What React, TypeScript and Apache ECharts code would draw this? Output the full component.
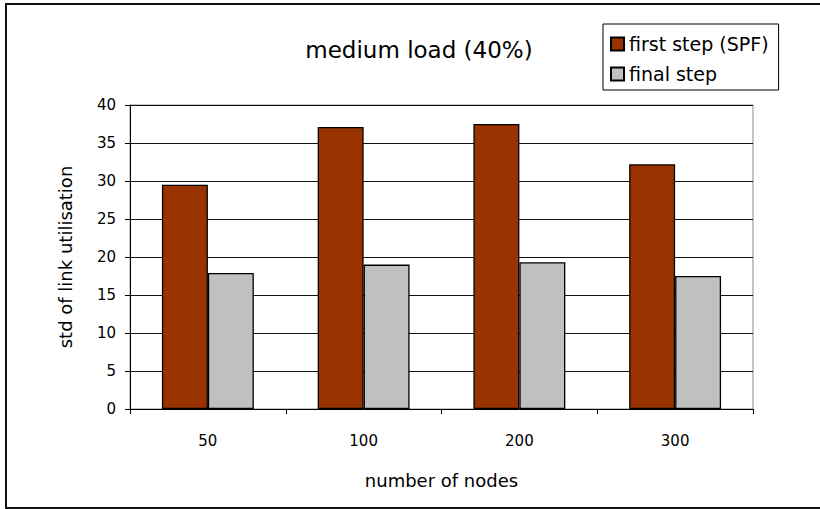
import React, { useEffect, useRef } from "react";
import * as echarts from "echarts";

const categories = ["50", "100", "200", "300"];
const firstStep = [29.5, 37.1, 37.5, 32.2];
const finalStep = [17.9, 19.0, 19.3, 17.5];
const seriesNames = ["first step (SPF)", "final step"];
const titleText = "medium load (40%)";
const xName = "number of nodes";
const yName = "std of link utilisation";

const FONT = "'DejaVu Sans', Verdana, sans-serif";

export default function App() {
  const ref = useRef<HTMLDivElement>(null);
  useEffect(() => {
    if (!ref.current) return;
    const chart = echarts.init(ref.current, undefined, { renderer: "svg" });
    chart.setOption({
      animation: false,
      backgroundColor: "#ffffff",
      textStyle: { fontFamily: FONT, color: "#000" },
      title: {
        text: titleText,
        left: 414,
        top: 33,
        textAlign: "center",
        textStyle: { fontFamily: FONT, fontSize: 23, fontWeight: "normal", color: "#000" },
      },
      legend: {
        orient: "vertical",
        left: 603,
        top: 24,
        padding: [9, 10, 5, 7],
        itemGap: 8,
        itemWidth: 13,
        itemHeight: 13,
        icon: "rect",
        borderColor: "#000",
        borderWidth: 1,
        textStyle: { fontFamily: FONT, fontSize: 19, color: "#000", lineHeight: 22 },
        data: seriesNames,
      },
      grid: {
        left: 130,
        right: 67,
        top: 105,
        bottom: 100,
        show: true,
        borderColor: "#8a8a8a",
        borderWidth: 1,
        backgroundColor: "transparent",
      },
      xAxis: {
        type: "category",
        data: categories,
        name: xName,
        nameLocation: "middle",
        nameGap: 62,
        nameTextStyle: { fontFamily: FONT, fontSize: 18, color: "#000" },
        axisLine: { show: true, lineStyle: { color: "#000", width: 1 } },
        axisTick: { show: true, length: 5, interval: 0, lineStyle: { color: "#000" } },
        axisLabel: { fontFamily: FONT, fontSize: 15, color: "#000", margin: 24 },
      },
      yAxis: {
        type: "value",
        min: 0,
        max: 40,
        interval: 5,
        name: yName,
        nameLocation: "middle",
        nameGap: 56,
        nameTextStyle: { fontFamily: FONT, fontSize: 18, color: "#000" },
        axisLine: { show: true, lineStyle: { color: "#000", width: 1 } },
        axisTick: { show: true, length: 5, lineStyle: { color: "#000" } },
        axisLabel: { fontFamily: FONT, fontSize: 15, color: "#000", margin: 14 },
        splitLine: { show: true, lineStyle: { color: "#111", width: 1 } },
      },
      series: [
        {
          name: seriesNames[0],
          type: "bar",
          data: firstStep,
          barGap: "0%",
          barCategoryGap: "41%",
          itemStyle: { color: "#993300", borderColor: "#000", borderWidth: 1.3 },
        },
        {
          name: seriesNames[1],
          type: "bar",
          data: finalStep,
          barGap: "0%",
          barCategoryGap: "41%",
          itemStyle: { color: "#C0C0C0", borderColor: "#000", borderWidth: 1.3 },
        },
      ],
      graphic: [
        {
          type: "rect",
          shape: { x: 6, y: 4, width: 820, height: 504 },
          style: { fill: "none", stroke: "#111", lineWidth: 2 },
          silent: true,
          z: 100,
        },
      ],
    });
    return () => chart.dispose();
  }, []);
  return (
    <div
      ref={ref}
      style={{ position: "fixed", left: 0, top: 0, width: 820, height: 509 }}
    />
  );
}
